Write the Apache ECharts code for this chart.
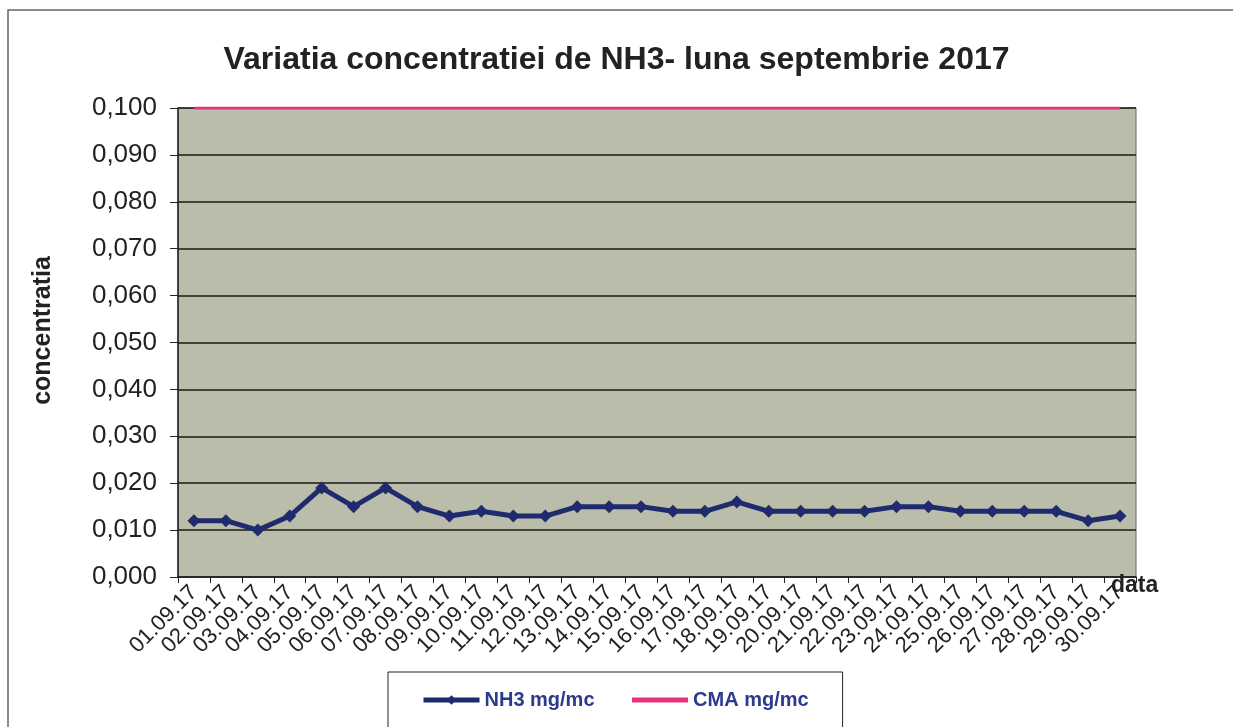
<!DOCTYPE html>
<html>
<head>
<meta charset="utf-8">
<script src="https://cdn.jsdelivr.net/npm/echarts@6/dist/echarts.min.js"></script>
<style>
  html, body { margin: 0; padding: 0; background: #fff; }
  #chart { width: 1233px; height: 727px; }
</style>
</head>
<body>
<div id="chart"></div>
<script>
// date labels, one per day of September 2017
var days = ['01.09.17','02.09.17','03.09.17','04.09.17','05.09.17','06.09.17','07.09.17','08.09.17','09.09.17','10.09.17',
            '11.09.17','12.09.17','13.09.17','14.09.17','15.09.17','16.09.17','17.09.17','18.09.17','19.09.17','20.09.17',
            '21.09.17','22.09.17','23.09.17','24.09.17','25.09.17','26.09.17','27.09.17','28.09.17','29.09.17','30.09.17'];

// NH3 measured (mg/mc)
var nh3 = [0.012,0.012,0.010,0.013,0.019,0.015,0.019,0.015,0.013,0.014,
           0.013,0.013,0.015,0.015,0.015,0.014,0.014,0.016,0.014,0.014,
           0.014,0.014,0.015,0.015,0.014,0.014,0.014,0.014,0.012,0.013];

// CMA limit (mg/mc)
var cma = [0.1,0.1,0.1,0.1,0.1,0.1,0.1,0.1,0.1,0.1,
           0.1,0.1,0.1,0.1,0.1,0.1,0.1,0.1,0.1,0.1,
           0.1,0.1,0.1,0.1,0.1,0.1,0.1,0.1,0.1,0.1];

var font = '"Liberation Sans", Arial, sans-serif';

var myChart = echarts.init(document.getElementById('chart'));

var option = {
    backgroundColor: '#fff',
    animation: false,
    title: {
        text: 'Variatia concentratiei de NH3- luna septembrie 2017',
        left: 'center',
        top: 39,
        textStyle: {
            fontFamily: font,
            fontSize: 32,
            fontWeight: 'bold',
            color: '#222'
        }
    },
    graphic: [
        {
            type: 'rect',
            shape: { x: 8, y: 10, width: 1260, height: 760 },
            style: { fill: 'none', stroke: '#666', lineWidth: 1.5 },
            silent: true
        },
        {
            type: 'text',
            left: 1111,
            top: 574,
            style: {
                text: 'data',
                fontFamily: font,
                fontSize: 23,
                fontWeight: 'bold',
                fill: '#222'
            }
        }
    ],
    grid: {
        left: 178,
        top: 108,
        right: 97,
        bottom: 150,
        show: true,
        backgroundColor: '#b9bdaa',
        borderColor: '#666',
        borderWidth: 1
    },
    legend: {
        data: ['NH3 mg/mc', { name: 'CMA mg/mc', itemStyle: { opacity: 0 } }],
        left: 388,
        top: 672,
        padding: [18, 34, 40, 33],
        itemGap: 35,
        itemWidth: 56,
        itemHeight: 12,
        backgroundColor: '#fff',
        borderColor: '#222',
        borderWidth: 1,
        lineStyle: { width: 5 },
        textStyle: {
            fontFamily: font,
            fontSize: 20,
            fontWeight: 'bold',
            color: '#2b3a8f'
        }
    },
    xAxis: {
        type: 'category',
        data: days,
        boundaryGap: true,
        axisLine: { show: true, lineStyle: { color: '#222', width: 1.5 } },
        axisTick: { show: true, interval: 0, length: 6, lineStyle: { color: '#222' } },
        axisLabel: {
            interval: 0,
            rotate: 45,
            margin: 12,
            fontFamily: font,
            fontSize: 22,
            color: '#222'
        },
        splitLine: { show: false }
    },
    yAxis: {
        type: 'value',
        min: 0,
        max: 0.1,
        interval: 0.01,
        name: 'concentratia',
        nameLocation: 'middle',
        nameGap: 122,
        nameTextStyle: {
            fontFamily: font,
            fontSize: 25,
            fontWeight: 'bold',
            color: '#222',
            padding: [0, 0, 0, 24]
        },
        axisLine: { show: true, lineStyle: { color: '#222', width: 1.5 } },
        axisTick: { show: true, length: 8, lineStyle: { color: '#222' } },
        axisLabel: {
            margin: 21,
            fontFamily: font,
            fontSize: 26,
            color: '#222',
            formatter: function (v) {
                return v.toFixed(3).replace('.', ',');
            }
        },
        splitLine: { show: true, lineStyle: { color: '#1a1a1a', width: 1.5 } }
    },
    series: [
        {
            name: 'NH3 mg/mc',
            type: 'line',
            data: nh3,
            color: '#1f2b6e',
            symbol: 'diamond',
            symbolSize: 13,
            lineStyle: { width: 5, color: '#1f2b6e' },
            itemStyle: { color: '#1f2b6e' },
            z: 3
        },
        {
            name: 'CMA mg/mc',
            type: 'line',
            data: cma,
            color: '#e3327c',
            symbol: 'circle',
            showSymbol: false,
            lineStyle: { width: 3, color: '#e3327c' },
            z: 2
        }
    ]
};

myChart.setOption(option);
</script>
</body>
</html>
